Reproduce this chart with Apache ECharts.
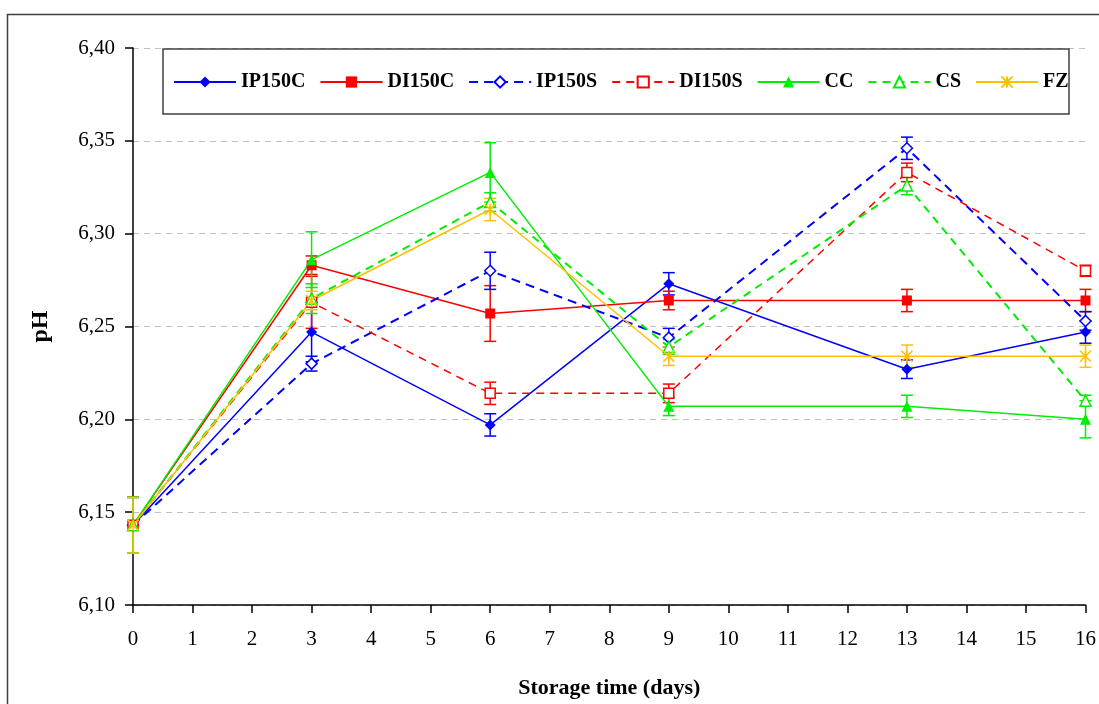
<!DOCTYPE html>
<html>
<head>
<meta charset="utf-8">
<script src="https://cdn.jsdelivr.net/npm/echarts@6/dist/echarts.min.js"></script>
<style>
html,body{margin:0;padding:0;background:#fff;}
#chart{width:1099px;height:704px;}
</style>
</head>
<body>
<div id="chart"></div>
<script>
// ---- data ----
var days = [0, 3, 6, 9, 13, 16];
var seriesNames = ['IP150C', 'DI150C', 'IP150S', 'DI150S', 'CC', 'CS', 'FZ'];
var IP150C = [6.143, 6.247, 6.197, 6.273, 6.227, 6.247];
var DI150C = [6.143, 6.283, 6.257, 6.264, 6.264, 6.264];
var IP150S = [6.143, 6.230, 6.280, 6.244, 6.346, 6.253];
var DI150S = [6.143, 6.263, 6.214, 6.214, 6.333, 6.280];
var CC     = [6.143, 6.286, 6.333, 6.207, 6.207, 6.200];
var CS     = [6.143, 6.265, 6.317, 6.239, 6.326, 6.210];
var FZ     = [6.143, 6.264, 6.313, 6.234, 6.234, 6.234];
// error bar half-widths (±)
var IP150C_err = [0.015, 0.016, 0.006, 0.006, 0.005, 0.006];
var DI150C_err = [0.015, 0.005, 0.015, 0.005, 0.006, 0.006];
var IP150S_err = [0.015, 0.004, 0.010, 0.005, 0.006, 0.005];
var DI150S_err = [0.015, 0.014, 0.006, 0.005, 0.005, 0.003];
var CC_err     = [0.015, 0.015, 0.016, 0.005, 0.006, 0.010];
var CS_err     = [0.015, 0.008, 0.005, 0.004, 0.005, 0.003];
var FZ_err     = [0.015, 0.005, 0.006, 0.005, 0.006, 0.006];
var yTickMin = 6.10, yTickMax = 6.40, yTickStep = 0.05;
var xTickMin = 0, xTickMax = 16, xTickStep = 1;

// ---- styles ----
var FONT = '"Liberation Serif","Times New Roman",serif';
var styles = {
  IP150C: {color: '#0000FF', symbol: 'diamond', size: 11, open: false, dash: 'solid', width: 1.5},
  DI150C: {color: '#FF0000', symbol: 'rect', size: 10, open: false, dash: 'solid', width: 1.5},
  IP150S: {color: '#0000FF', symbol: 'diamond', size: 11, open: true, dash: [9, 6], width: 2},
  DI150S: {color: '#FF0000', symbol: 'rect', size: 10, open: true, dash: [8, 6], width: 1.5},
  CC:     {color: '#00EE00', symbol: 'triangle', size: 11, open: false, dash: 'solid', width: 1.5},
  CS:     {color: '#00EE00', symbol: 'triangle', size: 11, open: true, dash: [8, 6], width: 2},
  FZ:     {color: '#FFC000', symbol: 'path://M0,0L10,10M0,10L10,0M5,0L5,10', size: 11, open: false, dash: 'solid', width: 1.5, star: true}
};
var values = {IP150C: IP150C, DI150C: DI150C, IP150S: IP150S, DI150S: DI150S, CC: CC, CS: CS, FZ: FZ};
var errs = {IP150C: IP150C_err, DI150C: DI150C_err, IP150S: IP150S_err, DI150S: DI150S_err, CC: CC_err, CS: CS_err, FZ: FZ_err};

var series = [];
seriesNames.forEach(function (name) {
  var st = styles[name];
  var v = values[name], e = errs[name];
  var errData = days.map(function (d, i) { return [d, v[i] - e[i], v[i] + e[i]]; });
  series.push({
    name: name + ' err',
    type: 'custom',
    z: 2,
    silent: true,
    data: errData,
    encode: {x: 0, y: [1, 2]},
    renderItem: (function (col) {
      return function (params, api) {
        var x = api.value(0), lo = api.value(1), hi = api.value(2);
        var p1 = api.coord([x, hi]), p2 = api.coord([x, lo]);
        var w = 6;
        var s = {stroke: col, lineWidth: 1.5};
        return {type: 'group', children: [
          {type: 'line', shape: {x1: p1[0], y1: p1[1], x2: p2[0], y2: p2[1]}, style: s},
          {type: 'line', shape: {x1: p1[0] - w, y1: p1[1], x2: p1[0] + w, y2: p1[1]}, style: s},
          {type: 'line', shape: {x1: p2[0] - w, y1: p2[1], x2: p2[0] + w, y2: p2[1]}, style: s}
        ]};
      };
    })(st.color)
  });
});
seriesNames.forEach(function (name) {
  var st = styles[name];
  var v = values[name];
  series.push({
    name: name,
    type: 'line',
    z: 3,
    symbol: st.symbol,
    symbolSize: st.size,
    showAllSymbol: true,
    data: days.map(function (d, i) { return [d, v[i]]; }),
    lineStyle: {color: st.color, width: st.width, type: st.dash},
    itemStyle: st.star ? {color: st.color, borderColor: st.color, borderWidth: 1.6}
             : (st.open ? {color: '#FFFFFF', borderColor: st.color, borderWidth: 1.5}
                        : {color: st.color, borderColor: st.color, borderWidth: 0}),
    emphasis: {disabled: true},
    animation: false
  });
});

var chart = echarts.init(document.getElementById('chart'), null, {renderer: 'canvas'});
chart.setOption({
  animation: false,
  backgroundColor: '#FFFFFF',
  grid: {left: 133, right: 12, top: 48, bottom: 96, containLabel: false},
  graphic: [
    {type: 'rect', left: 5, top: 12, shape: {x: 0, y: 0, width: 1200, height: 800},
     style: {fill: 'none', stroke: '#404040', lineWidth: 1.5}, z: 0, silent: true},
    {type: 'rect', shape: {x: 163, y: 49, width: 906, height: 65},
     style: {fill: '#FFFFFF', stroke: '#404040', lineWidth: 1.5}, z: 10, silent: true}
  ],
  legend: {
    data: seriesNames,
    left: 173,
    top: 72,
    z: 20,
    itemWidth: 62,
    itemHeight: 14,
    itemGap: 14,
    padding: 0,
    selectedMode: false,
    textStyle: {fontFamily: FONT, fontSize: 20, fontWeight: 'bold', color: '#000'}
  },
  xAxis: {
    type: 'value',
    min: xTickMin, max: xTickMax, interval: xTickStep,
    name: 'Storage time (days)',
    nameLocation: 'middle',
    nameGap: 72,
    nameTextStyle: {fontFamily: FONT, fontSize: 22, fontWeight: 'bold', color: '#000'},
    axisLine: {show: true, onZero: false, lineStyle: {color: '#000', width: 1.5}},
    axisTick: {show: true, inside: false, length: 8, lineStyle: {color: '#000', width: 1.5}},
    axisLabel: {margin: 24, fontFamily: FONT, fontSize: 21, color: '#000'},
    splitLine: {show: false}
  },
  yAxis: {
    type: 'value',
    min: yTickMin, max: yTickMax, interval: yTickStep,
    name: 'pH',
    nameLocation: 'middle',
    nameGap: 80,
    nameRotate: 90,
    nameTextStyle: {fontFamily: FONT, fontSize: 24, fontWeight: 'bold', color: '#000'},
    axisLine: {show: true, lineStyle: {color: '#000', width: 1.5}},
    axisTick: {show: true, inside: false, length: 8, lineStyle: {color: '#000', width: 1.5}},
    axisLabel: {margin: 18, fontFamily: FONT, fontSize: 21, color: '#000',
      formatter: function (v) { return v.toFixed(2).replace('.', ','); }},
    splitLine: {show: true, lineStyle: {color: '#C0C0C0', width: 1, type: [6, 5]}}
  },
  series: series
});
</script>
</body>
</html>
